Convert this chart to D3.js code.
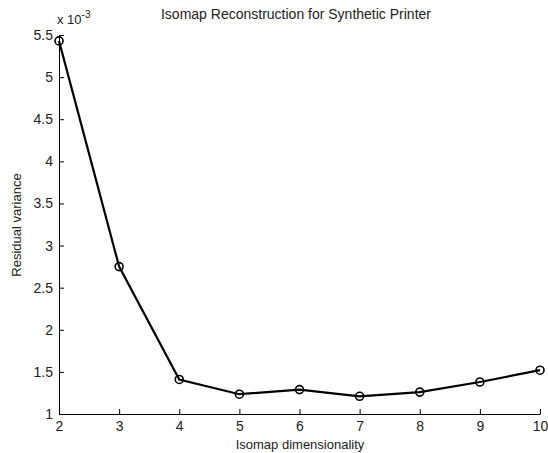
<!DOCTYPE html>
<html>
<head>
  <meta charset="utf-8">
  <script src="https://cdnjs.cloudflare.com/ajax/libs/d3/7.8.5/d3.min.js"></script>
  <title>isomap</title>
  <style>
    body { margin: 0; background: #fff; }
    text { font-family: "Liberation Sans", Arial, sans-serif; }
  </style>
</head>
<body>
<script>
// residual variance (x 10^-3) per isomap dimensionality
var dims = [2, 3, 4, 5, 6, 7, 8, 9, 10];
var residual = [5.43, 2.75, 1.41, 1.235, 1.29, 1.21, 1.26, 1.38, 1.52];
var yTicks = [1, 1.5, 2, 2.5, 3, 3.5, 4, 4.5, 5, 5.5];

var W = 548, H = 453;
var plotL = 59, plotR = 540, plotT = 35, plotB = 414;

var svg = d3.select("body").append("svg")
  .attr("width", W).attr("height", H);

var x = d3.scaleLinear().domain([2, 10]).range([plotL, plotR]);
var y = d3.scaleLinear().domain([1, 5.5]).range([plotB, plotT]);

svg.append("g")
  .attr("transform", "translate(0," + plotB + ")")
  .call(d3.axisBottom(x).tickValues(dims).tickFormat(d3.format("d"))
    .tickSizeInner(-5).tickSizeOuter(0).tickPadding(7));

svg.append("g")
  .attr("transform", "translate(" + plotL + ",0)")
  .call(d3.axisLeft(y).tickValues(yTicks).tickFormat(function(d) { return d; })
    .tickSizeInner(-5).tickSizeOuter(0).tickPadding(6));

svg.selectAll(".domain").attr("stroke", "#000");
svg.selectAll(".tick line").attr("stroke", "#000");
svg.selectAll(".tick text").attr("font-size", 14).attr("fill", "#222")
  .style("font-family", "'Liberation Sans', Arial, sans-serif");

var line = d3.line()
  .x(function(d, i) { return x(dims[i]); })
  .y(function(d) { return y(d); });

svg.append("path").datum(residual)
  .attr("d", line)
  .attr("fill", "none")
  .attr("stroke", "#000")
  .attr("stroke-width", 2.2);

svg.selectAll("circle.pt").data(residual).enter().append("circle")
  .attr("class", "pt")
  .attr("cx", function(d, i) { return x(dims[i]); })
  .attr("cy", function(d) { return y(d); })
  .attr("r", 4)
  .attr("fill", "none")
  .attr("stroke", "#000")
  .attr("stroke-width", 1.6);

// title and labels
svg.append("text").attr("x", 296).attr("y", 19).attr("text-anchor", "middle")
  .attr("font-size", 14).attr("fill", "#222")
  .text("Isomap Reconstruction for Synthetic Printer");

svg.append("text").attr("x", 300).attr("y", 449).attr("text-anchor", "middle")
  .attr("font-size", 13).attr("fill", "#222")
  .text("Isomap dimensionality");

svg.append("text")
  .attr("transform", "translate(21,225) rotate(-90)")
  .attr("text-anchor", "middle")
  .attr("font-size", 13).attr("fill", "#222")
  .text("Residual variance");

var mult = svg.append("text").attr("x", 57).attr("y", 24)
  .attr("font-size", 13).attr("fill", "#222");
mult.append("tspan").text("x 10");
mult.append("tspan").attr("dy", -6).attr("font-size", 10).text("-3");
</script>
</body>
</html>
